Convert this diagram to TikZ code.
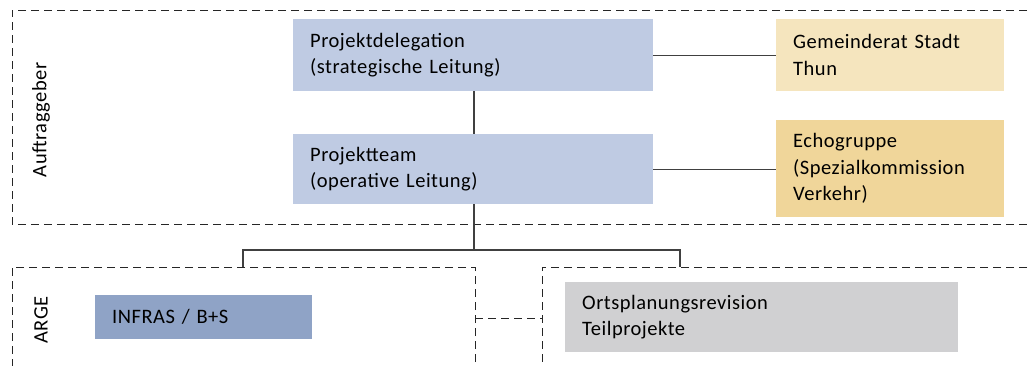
\documentclass[tikz,border=0pt]{standalone}
\usepackage{fontspec}
\setmainfont[LetterSpace=2.5]{Carlito}
\definecolor{boxblue}{HTML}{BFCBE3}
\definecolor{boxdark}{HTML}{8FA3C6}
\definecolor{boxlight}{HTML}{F5E5BE}
\definecolor{boxgold}{HTML}{F0D69A}
\definecolor{boxgrey}{HTML}{D0D0D2}
\definecolor{linec}{HTML}{404040}
\begin{document}
\begin{tikzpicture}[x=1pt,y=-1pt,
  every node/.style={font=\fontsize{20.5}{26.5}\selectfont, text=black},
  orgbox/.style={draw=none, inner xsep=17pt, inner ysep=0pt, align=left, anchor=north west},
  groupframe/.style={draw=black!85, dashed, dash pattern=on 8pt off 5pt, line width=0.9pt},
  conn/.style={draw=linec, line width=1.3pt},
  sidelabel/.style={rotate=90, anchor=center}
]
\useasboundingbox (0,0) rectangle (1029,365);
% group frames
\draw[groupframe] (1040,10) -- (12,10) -- (12,224) -- (1040,224);
\draw[groupframe] (475,375) -- (475,267) -- (12,267) -- (12,375);
\draw[groupframe] (1040,267) -- (542,267) -- (542,375);
\coordinate (gl) at (475,318);
\coordinate (gr) at (542,318);
\draw[groupframe] (gl) -- (gr);
% boxes
\node[orgbox, fill=boxblue, text width=326pt, minimum height=72pt] (pd) at (293,19) {Projektdelegation\\(strategische Leitung)};
\node[orgbox, fill=boxblue, text width=326pt, minimum height=70pt] (pt) at (293,134) {Projektteam\\(operative Leitung)};
\node[orgbox, fill=boxlight, text width=194pt, minimum height=72pt] (gr1) at (776,19) {Gemeinderat Stadt\\Thun};
\node[orgbox, fill=boxgold, text width=194pt, minimum height=97pt] (eg) at (776,120) {Echogruppe\\(Spezialkommission\\Verkehr)};
\node[orgbox, fill=boxdark, text width=183pt, minimum height=44pt] (inf) at (95,295) {INFRAS / B+S};
\node[orgbox, fill=boxgrey, text width=359pt, minimum height=70pt] (opr) at (565,282) {Ortsplanungsrevision\\Teilprojekte};
% labels
\node[sidelabel] (la) at (41,120) {Auftraggeber};
\node[sidelabel] (lb) at (41,320) {ARGE};
% connectors
\coordinate (j) at (474,250);
\coordinate (jl) at (243,250);
\coordinate (jr) at (680,250);
\coordinate (el) at (243,267);
\coordinate (er) at (680,267);
\draw[conn] (pd.south -| j) -- (pt.north -| j);
\draw[conn] (pd.east) -- (pd.east -| gr1.west);
\draw[conn] (pt.east) -- (pt.east -| eg.west);
\draw[conn] (pt.south -| j) -- (j);
\draw[conn] (el) -- (jl) -- (jr) -- (er);
\end{tikzpicture}
\end{document}
